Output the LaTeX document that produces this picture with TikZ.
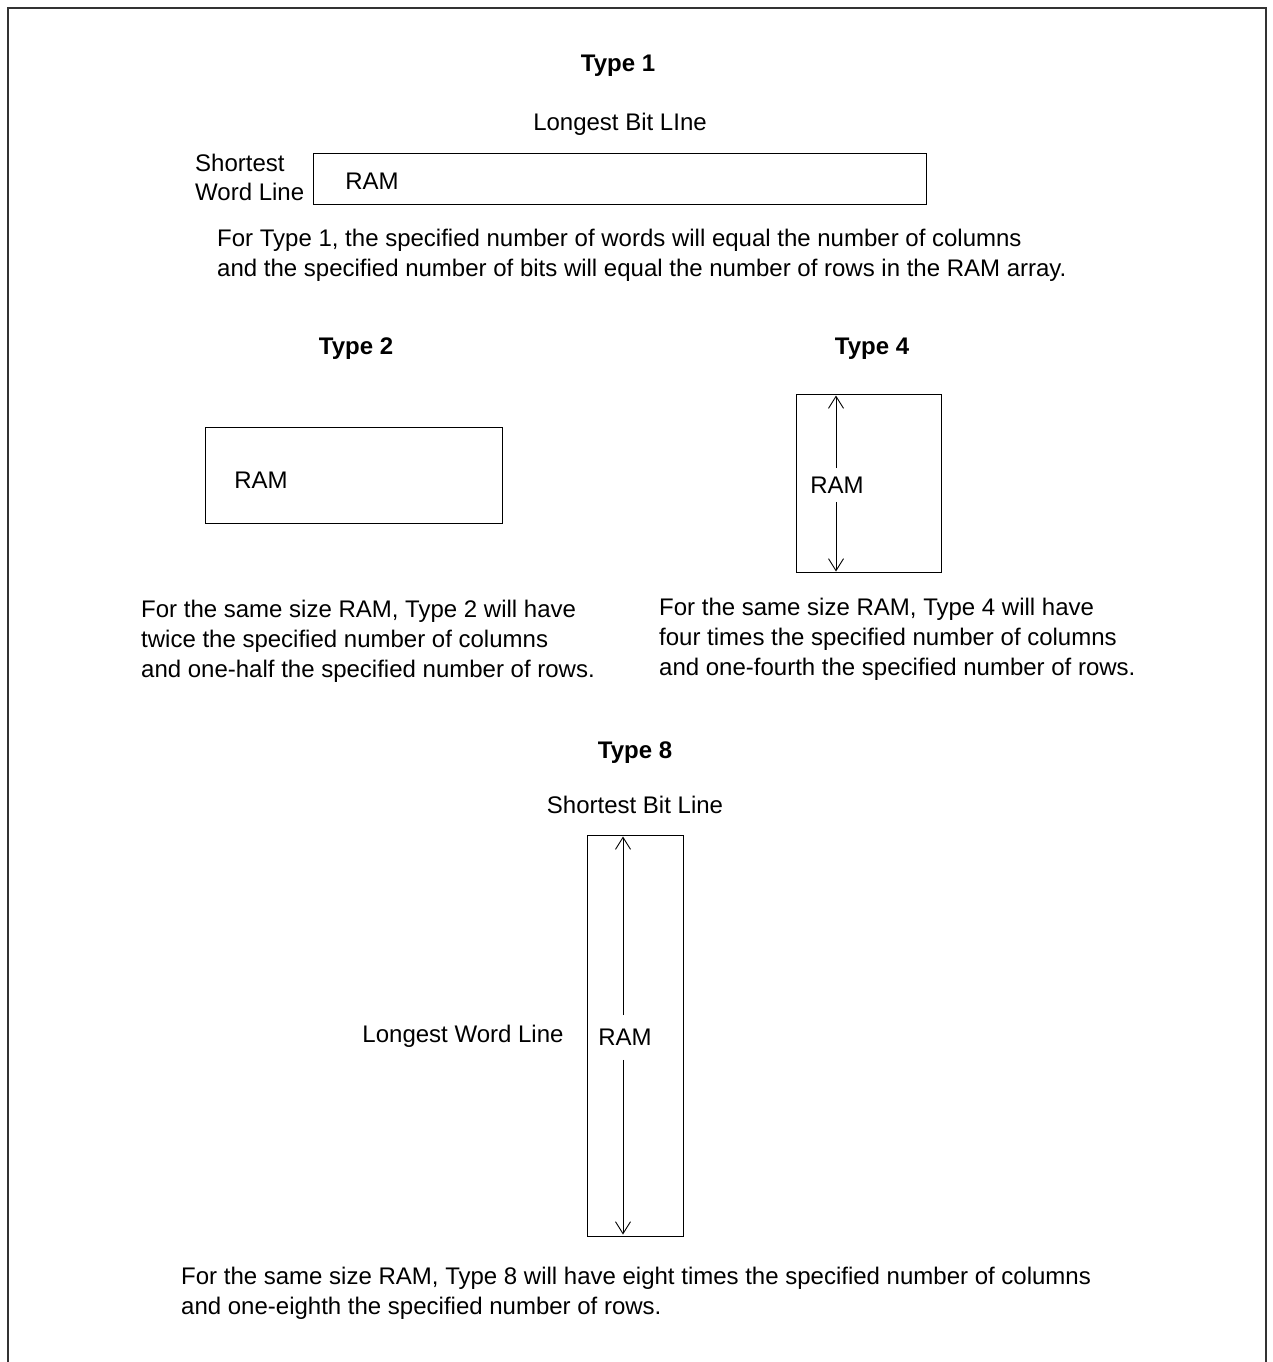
\documentclass[tikz,border=0pt]{standalone}
\usepackage{fontspec}
\setmainfont{Liberation Sans}
\usetikzlibrary{arrows.meta}
\begin{document}
\begin{tikzpicture}[x=1pt,y=-1pt,
  every node/.style={font=\fontsize{24}{30}\selectfont, inner sep=0pt},
  title/.style={font=\fontsize{24}{30}\selectfont\bfseries},
  para/.style={anchor=north west, align=left, font=\fontsize{24}{30}\selectfont},
  ramBox/.style={draw, line width=1pt},
  halfArrow/.style={line width=0.9pt, -{Straight Barb[length=12pt,width=15pt,line width=0.9pt]}}
]
\useasboundingbox (0,0) rectangle (1273,1362);
\draw[line width=2pt, draw=black!80] (8,1362) -- (8,8) -- (1266,8) -- (1266,1362);

% Type 1
\node[title] (t1) at (618,66) {Type 1};
\node (lbl1) at (620,124) {Longest Bit LIne};
\node[anchor=west, align=left, font=\fontsize{24}{29}\selectfont] (swl) at (195,177) {Shortest\\Word Line};
\node[ramBox, minimum width=613pt, minimum height=51pt] (box1) at (619.5,178.5) {};
\node (ram1) at (372,181) {RAM};
\node[para] (p1) at (217,228.5) {For Type 1, the specified number of words will equal the number of columns\\and the specified number of bits will equal the number of rows in the RAM array.};

% Type 2
\node[title] (t2) at (356,349) {Type 2};
\node[ramBox, minimum width=297pt, minimum height=96pt] (box2) at (353.5,475) {};
\node (ram2) at (261,480) {RAM};
\node[para] (p2) at (141,599.5) {For the same size RAM, Type 2 will have\\twice the specified number of columns\\and one-half the specified number of rows.};

% Type 4
\node[title] (t4) at (872,349) {Type 4};
\node[ramBox, minimum width=145pt, minimum height=178pt] (box4) at (868.5,483.5) {};
\node[inner ysep=8.5pt] (ram4) at (837,485) {RAM};
\coordinate (b4top) at (836,395.5);
\coordinate (b4bot) at (836,571.5);
\draw[halfArrow] (ram4.north -| b4top) -- (b4top);
\draw[halfArrow] (ram4.south -| b4bot) -- (b4bot);
\node[para] (p4) at (659,597.5) {For the same size RAM, Type 4 will have\\four times the specified number of columns\\and one-fourth the specified number of rows.};

% Type 8
\node[title] (t8) at (635,752.5) {Type 8};
\node (lbl8) at (635,805) {Shortest Bit Line};
\node[ramBox, minimum width=96pt, minimum height=401pt] (box8) at (635,1035.5) {};
\node[inner ysep=14pt] (ram8) at (625,1037.5) {RAM};
\coordinate (b8top) at (623,836.5);
\coordinate (b8bot) at (623,1234.5);
\draw[halfArrow] (ram8.north -| b8top) -- (b8top);
\draw[halfArrow] (ram8.south -| b8bot) -- (b8bot);
\node (lwl) at (463,1036) {Longest Word Line};
\node[para] (p8) at (181,1266.5) {For the same size RAM, Type 8 will have eight times the specified number of columns\\and one-eighth the specified number of rows.};
\end{tikzpicture}
\end{document}
